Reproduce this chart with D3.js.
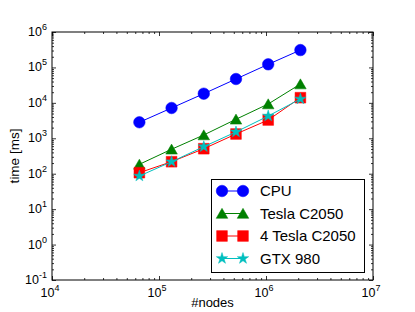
<!DOCTYPE html>
<html>
<head>
<meta charset="utf-8">
<script src="https://cdn.jsdelivr.net/npm/d3@7"></script>
<style>
  body { margin: 0; background: #fff; }
  text { font-family: "Liberation Sans", Arial, sans-serif; fill: #000; }
  .tick line { stroke: #000; }
</style>
</head>
<body>
<div id="chart"></div>
<script>
var width = 415; var height = 312;

// data
var nodes = [65536, 131072, 262144, 524288, 1048576, 2097152];
var seriesNames = ["CPU", "Tesla C2050", "4 Tesla C2050", "GTX 980"];
var cpuTime = [2830, 7160, 18150, 47100, 122400, 309000];
var teslaTime = [184, 490, 1240, 3440, 9290, 34000];
var tesla4Time = [107, 218, 508, 1320, 3280, 14000];
var gtxTime = [86, 218, 580, 1510, 4250, 12850];
var xTicks = [1e4, 1e5, 1e6, 1e7];
var xTickExp = ["4", "5", "6", "7"];
var yTicks = [1e-1, 1e0, 1e1, 1e2, 1e3, 1e4, 1e5, 1e6];
var yTickExp = ["-1", "0", "1", "2", "3", "4", "5", "6"];

var series = [
	{ name: seriesNames[0], values: cpuTime, color: "#0000ff", shape: d3.symbolCircle, size: 105, dy: 0 },
	{ name: seriesNames[1], values: teslaTime, color: "#008000", shape: d3.symbolTriangle, size: 58, dy: 1.5 },
	{ name: seriesNames[2], values: tesla4Time, color: "#ff0000", shape: d3.symbolSquare, size: 115, dy: 0 },
	{ name: seriesNames[3], values: gtxTime, color: "#00bfbf", shape: d3.symbolStar, size: 40, dy: 0 }
];

// plot box (window.top is read-only, so use other names)
var pL = 52, pR = 373, pT = 32, pB = 280;

var x = d3.scaleLog().domain([1e4, 1e7]).range([pL, pR]);
var y = d3.scaleLog().domain([1e-1, 1e6]).range([pB, pT]);

var svg = d3.select("#chart").append("svg")
	.attr("width", width)
	.attr("height", height);

// minor tick values for log axes
function minors(lo, hi) {
	var out = [];
	for (var p = lo; p < hi; p++) {
		for (var k = 2; k < 10; k++) out.push(k * Math.pow(10, p));
	}
	return out;
}
var xMinor = minors(4, 7);
var yMinor = minors(-1, 6);

// ticks on all four sides, pointing in
function addAxis(axis, tx, ty) {
	var g = svg.append("g").attr("transform", "translate(" + tx + "," + ty + ")").call(axis);
	g.select(".domain").remove();
	g.selectAll(".tick text").remove();
	g.selectAll("line").attr("stroke-width", 0.8);
}
addAxis(d3.axisBottom(x).tickValues(xTicks).tickSize(-4), 0, pB);
addAxis(d3.axisBottom(x).tickValues(xMinor).tickSize(-2), 0, pB);
addAxis(d3.axisTop(x).tickValues(xTicks).tickSize(-4), 0, pT);
addAxis(d3.axisTop(x).tickValues(xMinor).tickSize(-2), 0, pT);
addAxis(d3.axisLeft(y).tickValues(yTicks).tickSize(-4), pL, 0);
addAxis(d3.axisLeft(y).tickValues(yMinor).tickSize(-2), pL, 0);
addAxis(d3.axisRight(y).tickValues(yTicks).tickSize(-4), pR, 0);
addAxis(d3.axisRight(y).tickValues(yMinor).tickSize(-2), pR, 0);

// tick labels with superscript exponents
var xl = svg.append("g").selectAll("text").data(xTicks).enter().append("text")
	.attr("x", function(d) { return x(d) - 2; })
	.attr("y", 297)
	.attr("text-anchor", "middle")
	.attr("font-size", 12.5);
xl.append("tspan").text("10");
xl.append("tspan").attr("dy", -6).attr("font-size", 9).text(function(d, i) { return xTickExp[i]; });

var yl = svg.append("g").selectAll("text").data(yTicks).enter().append("text")
	.attr("x", 47)
	.attr("y", function(d) { return y(d) + 4; })
	.attr("text-anchor", "end")
	.attr("font-size", 12.5);
yl.append("tspan").text("10");
yl.append("tspan").attr("dy", -6).attr("font-size", 9).text(function(d, i) { return yTickExp[i]; });

// axis titles
svg.append("text")
	.attr("x", (pL + pR) / 2)
	.attr("y", 307)
	.attr("text-anchor", "middle")
	.attr("font-size", 13)
	.text("#nodes");

svg.append("text")
	.attr("transform", "translate(19," + ((pT + pB) / 2) + ") rotate(-90)")
	.attr("text-anchor", "middle")
	.attr("font-size", 13.5)
	.text("time [ms]");

// series lines and markers
var line = d3.line()
	.x(function(d, i) { return x(nodes[i]); })
	.y(function(d) { return y(d); });

series.forEach(function(s) {
	var g = svg.append("g");
	g.append("path")
		.attr("d", line(s.values))
		.attr("fill", "none")
		.attr("stroke", s.color)
		.attr("stroke-width", 1);
	g.selectAll("path.mk").data(s.values).enter().append("path")
		.attr("class", "mk")
		.attr("d", d3.symbol().type(s.shape).size(s.size))
		.attr("transform", function(d, i) { return "translate(" + x(nodes[i]) + "," + (y(d) + s.dy) + ")"; })
		.attr("fill", s.color)
		.attr("stroke", s.color)
		.attr("stroke-width", 0.5);
});

// frame
svg.append("rect")
	.attr("x", pL).attr("y", pT)
	.attr("width", pR - pL).attr("height", pB - pT)
	.attr("fill", "none").attr("stroke", "#000").attr("stroke-width", 1);

// legend
var lg = svg.append("g");
lg.append("rect")
	.attr("x", 211.5).attr("y", 179.5)
	.attr("width", 153).attr("height", 93)
	.attr("fill", "#fff").attr("stroke", "#000").attr("stroke-width", 1);

series.forEach(function(s, i) {
	var ly = 191 + i * 22.5;
	lg.append("line")
		.attr("x1", 222).attr("x2", 243)
		.attr("y1", ly).attr("y2", ly)
		.attr("stroke", s.color).attr("stroke-width", 1);
	[222, 243].forEach(function(mx) {
		lg.append("path")
			.attr("d", d3.symbol().type(s.shape).size(s.size))
			.attr("transform", "translate(" + mx + "," + (ly + s.dy) + ")")
			.attr("fill", s.color)
			.attr("stroke", s.color)
			.attr("stroke-width", 0.5);
	});
	lg.append("text")
		.attr("x", 260)
		.attr("y", ly + 5)
		.attr("font-size", 15)
		.text(s.name);
});
</script>
</body>
</html>
